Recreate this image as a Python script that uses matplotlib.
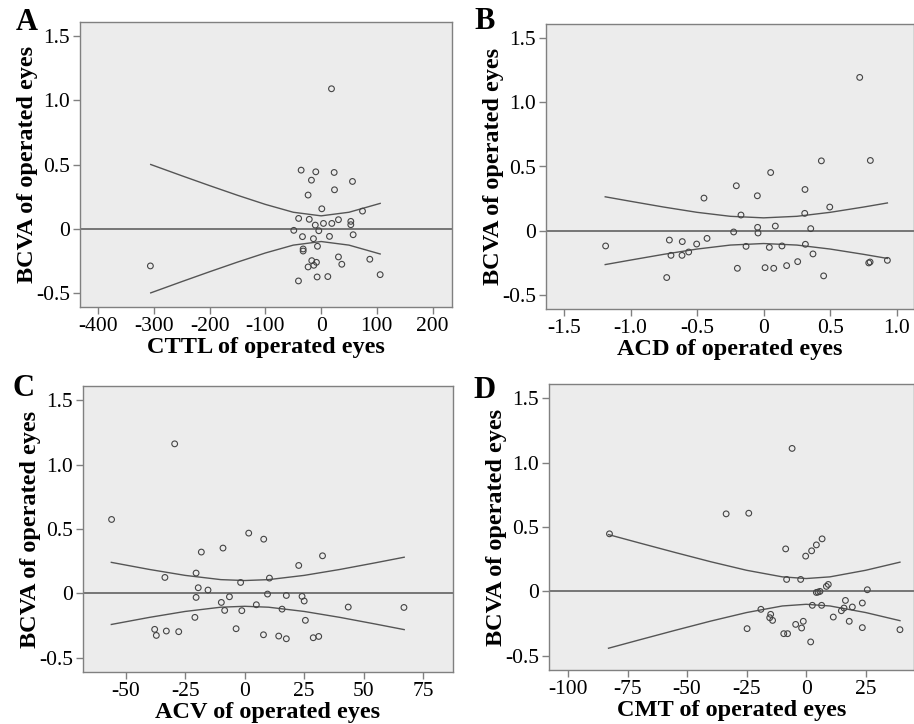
import matplotlib
matplotlib.use("Agg")
import matplotlib.pyplot as plt

plt.rcParams['font.family'] = ['Liberation Serif', 'DejaVu Serif']

# panel A: CTTL
cttl_x = [-306.6, 18.6, -35.9, -9.6, 23.4, -17.4, 56.3, -23.4, 24.0, 1.2, 74.3, -40.4,
          -21.3, -10.5, 4.2, 19.2, 31.1, 53.3, 53.3, -49.1, -4.2, -33.5, -13.8, 15.0,
          57.5, -6.6, -32.3, -32.3, -16.8, -8.4, -13.2, -23.4, 31.1, 37.1, 87.4, -7.2,
          12.0, -40.7, 106.0]
cttl_y = [-0.29, 1.09, 0.456, 0.443, 0.438, 0.378, 0.368, 0.262, 0.303, 0.155, 0.137, 0.080,
          0.073, 0.028, 0.041, 0.041, 0.070, 0.057, 0.031, -0.013, -0.016, -0.062, -0.078, -0.060,
          -0.047, -0.137, -0.158, -0.174, -0.249, -0.262, -0.285, -0.298, -0.220, -0.277, -0.238, -0.376,
          -0.373, -0.407, -0.358]
cttl_band_x = [-306, -250, -200, -150, -100, -50, 0, 50, 106]
cttl_band_up = [0.500, 0.412, 0.335, 0.260, 0.189, 0.128, 0.100, 0.128, 0.197]
cttl_band_lo = [-0.500, -0.412, -0.335, -0.260, -0.189, -0.128, -0.100, -0.128, -0.197]

# panel B: ACD
acd_x = [-1.187, -0.728, -0.708, -0.696, -0.611, -0.613, -0.563, -0.503, -0.448, -0.425,
         -0.205, -0.225, -0.197, -0.170, -0.132, -0.047, -0.045, -0.042, 0.011, 0.053,
         0.043, 0.076, 0.088, 0.138, 0.173, 0.256, 0.311, 0.309, 0.314, 0.354,
         0.371, 0.434, 0.451, 0.497, 0.722, 0.802, 0.790, 0.800, 0.930]
acd_y = [-0.119, -0.365, -0.073, -0.192, -0.085, -0.192, -0.166, -0.104, 0.254, -0.060,
         0.350, -0.010, -0.293, 0.122, -0.122, 0.272, 0.026, -0.018, -0.288, 0.453,
         -0.130, -0.293, 0.036, -0.119, -0.272, -0.241, 0.321, 0.135, -0.106, 0.016,
         -0.181, 0.544, -0.352, 0.184, 1.194, 0.547, -0.251, -0.244, -0.231]
acd_band_x = [-1.19, -1.0, -0.75, -0.5, -0.25, 0, 0.25, 0.5, 0.75, 0.93]
acd_band_up = [0.264, 0.229, 0.184, 0.143, 0.112, 0.100, 0.112, 0.143, 0.184, 0.216]
acd_band_lo = [-0.264, -0.229, -0.184, -0.143, -0.112, -0.100, -0.112, -0.143, -0.184, -0.216]

# panel C: ACV
acv_x = [-55.9, -29.4, -33.5, -37.8, -37.1, -32.9, -27.7, -20.4, -18.2, -19.5, -15.4, -20.4,
         -20.9, -9.1, -9.8, -8.4, -6.4, -3.6, -1.7, -1.2, 1.7, 4.9, 8.0, 7.9, 9.6, 10.4,
         14.3, 15.7, 17.5, 17.5, 22.7, 24.1, 25.0, 25.5, 28.8, 31.1, 32.7, 43.5, 66.9]
acv_y = [0.574, 1.161, 0.124, -0.279, -0.326, -0.292, -0.297, 0.158, 0.321, 0.044, 0.026, -0.031,
         -0.186, 0.352, -0.070, -0.132, -0.026, -0.274, 0.085, -0.134, 0.468, -0.088, 0.421, -0.321,
         -0.005, 0.119, -0.331, -0.122, -0.016, -0.352, 0.217, -0.023, -0.059, -0.209, -0.344,
         -0.334, 0.292, -0.106, -0.109]
acv_band_x = [-56, -40, -25, -10, 0, 10, 25, 40, 55, 67]
acv_band_up = [0.241, 0.186, 0.140, 0.107, 0.100, 0.107, 0.140, 0.186, 0.238, 0.281]
acv_band_lo = [-0.241, -0.186, -0.140, -0.107, -0.100, -0.107, -0.140, -0.186, -0.238, -0.281]

# panel D: CMT
cmt_x = [-82.6, -33.6, -24.1, -5.9, -8.6, -8.2, -2.3, -0.2, 2.3, 4.3, 6.7, 4.3, 5.0, 5.8,
         8.5, 9.3, 25.7, -19.0, -14.9, -15.3, -14.1, -24.8, -9.4, -7.8, -4.4, -1.9, -1.2,
         1.9, 2.6, 6.5, 11.4, 14.8, 15.9, 16.5, 18.1, 19.4, 23.6, 23.6, 39.4]
cmt_y = [0.447, 0.602, 0.607, 1.110, 0.330, 0.093, 0.093, 0.274, 0.315, 0.361, 0.408, -0.008,
         -0.005, 0.000, 0.039, 0.054, 0.013, -0.139, -0.178, -0.204, -0.225, -0.289, -0.328,
         -0.328, -0.256, -0.284, -0.232, -0.392, -0.108, -0.108, -0.199, -0.150, -0.129,
         -0.070, -0.232, -0.121, -0.090, -0.281, -0.297]
cmt_band_x = [-83, -70, -55, -40, -25, -10, 0, 10, 25, 39.4]
cmt_band_up = [0.441, 0.376, 0.302, 0.230, 0.164, 0.113, 0.100, 0.113, 0.164, 0.227]
cmt_band_lo = [-0.441, -0.376, -0.302, -0.230, -0.164, -0.113, -0.100, -0.113, -0.164, -0.227]

y_ticks = [-0.5, 0, 0.5, 1.0, 1.5]
y_labels = ["-0.5", "0", "0.5", "1.0", "1.5"]

W, H = 914, 724
fig = plt.figure(figsize=(W / 100, H / 100), dpi=100)


def panel(box, letter, letter_pos, xs, ys, bx, bup, blo, xlim, xticks, xlabels, xlabel):
    l, t, r, b = box
    ax = fig.add_axes([l / W, 1 - b / H, (r - l) / W, (b - t) / H])
    ax.set_facecolor('#ececec')
    ax.axhline(0, color='#555555', lw=1.1, zorder=1)
    ax.plot(bx, bup, color='#555555', lw=1.0, zorder=2)
    ax.plot(bx, blo, color='#555555', lw=1.0, zorder=2)
    ax.scatter(xs, ys, s=17, facecolors='none', edgecolors='#444444', linewidths=0.8, zorder=3)
    ax.set_xlim(*xlim)
    ax.set_ylim(-0.61, 1.61)
    ax.set_xticks(xticks)
    ax.set_xticklabels(xlabels)
    ax.set_yticks(y_ticks)
    ax.set_yticklabels(y_labels)
    for s in ax.spines.values():
        s.set_color('#808080')
        s.set_linewidth(1.0)
    ax.tick_params(direction='out', length=5, width=1, color='#808080',
                   labelsize=15.5, pad=2)
    ax.set_xlabel(xlabel, fontsize=17.5, fontweight='bold', labelpad=1)
    ax.set_ylabel("BCVA of operated eyes", fontsize=17.5, fontweight='bold', labelpad=-1)
    fig.text(letter_pos[0] / W, 1 - letter_pos[1] / H, letter, fontsize=22,
             fontweight='bold', ha='left', va='top')
    return ax


axA = panel((80, 22, 452, 307), "A", (16, 8), cttl_x, cttl_y, cttl_band_x, cttl_band_up, cttl_band_lo,
            (-433, 235), [-400, -300, -200, -100, 0, 100, 200],
            ["-400", "-300", "-200", "-100", "0", "100", "200"], "CTTL of operated eyes")
axB = panel((546, 24, 914, 309), "B", (474, 7), acd_x, acd_y, acd_band_x, acd_band_up, acd_band_lo,
            (-1.635, 1.13), [-1.5, -1.0, -0.5, 0, 0.5, 1.0],
            ["-1.5", "-1.0", "-0.5", "0", "0.5", "1.0"], "ACD of operated eyes")
axC = panel((83, 386, 453, 672), "C", (12, 374), acv_x, acv_y, acv_band_x, acv_band_up, acv_band_lo,
            (-67.9, 87.5), [-50, -25, 0, 25, 50, 75],
            ["-50", "-25", "0", "25", "50", "75"], "ACV of operated eyes")
axD = panel((549, 384, 914, 670), "D", (473, 376), cmt_x, cmt_y, cmt_band_x, cmt_band_up, cmt_band_lo,
            (-108, 45.3), [-100, -75, -50, -25, 0, 25],
            ["-100", "-75", "-50", "-25", "0", "25"], "CMT of operated eyes")

fig.savefig("out.png", dpi=100)
